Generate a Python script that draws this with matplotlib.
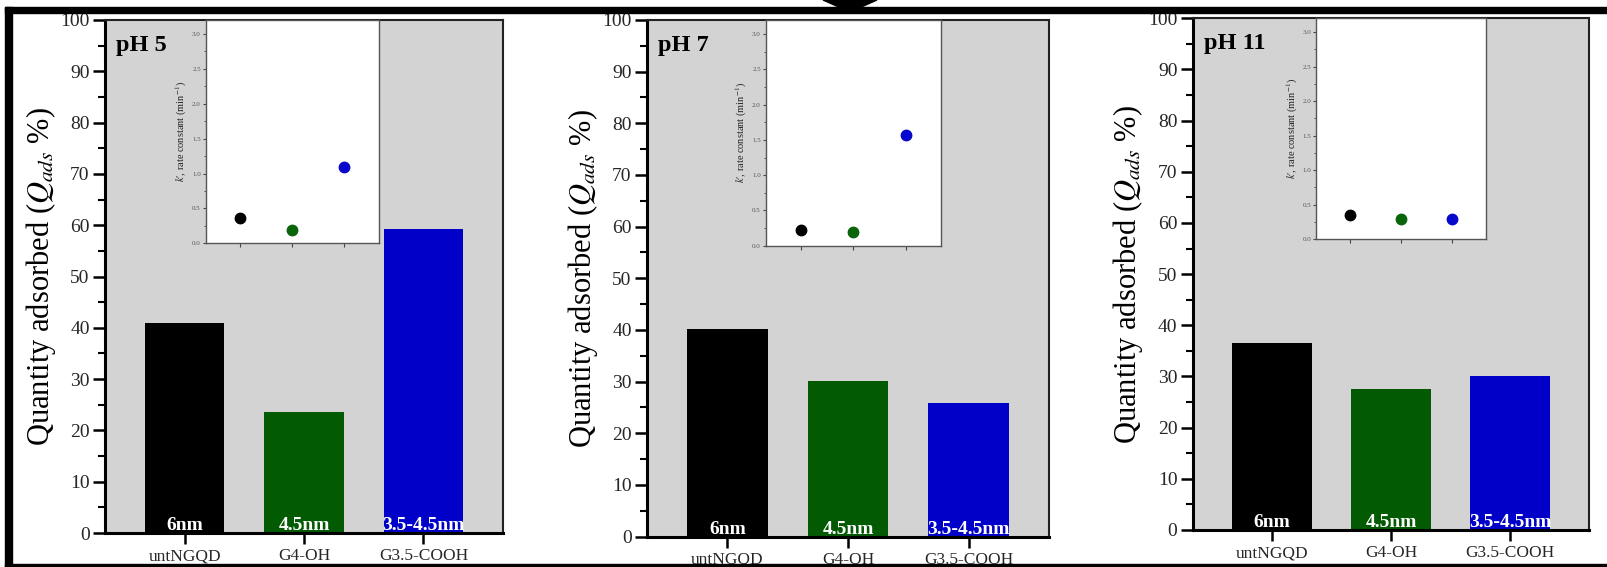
import matplotlib
matplotlib.use("Agg")
import matplotlib.pyplot as plt
from matplotlib.patches import Rectangle, Polygon
from matplotlib.ticker import MultipleLocator

plt.rcParams['font.family'] = ['Liberation Serif', 'DejaVu Serif']
plt.rcParams['mathtext.fontset'] = 'stix'

# ---- data ----
ph_labels = ['pH 5', 'pH 7', 'pH 11']
categories = ['untNGQD', 'G4-OH', 'G3.5-COOH']
sizes = ['6nm', '4.5nm', '3.5-4.5nm']
q_ph5 = [40.9, 23.6, 59.2]
q_ph7 = [40.1, 30.1, 25.9]
q_ph11 = [36.5, 27.5, 30.0]
k_ph5 = [0.36, 0.19, 1.09]
k_ph7 = [0.22, 0.19, 1.57]
k_ph11 = [0.35, 0.29, 0.29]

bar_colors = ['#000000', '#025a02', '#0000c8']
pt_colors = ['#000000', '#0a640a', '#0808cc']

W, H = 1608, 567
fig = plt.figure(figsize=(W / 100, H / 100), dpi=100)


def rect(l, r, t, b):
    return [l / W, 1 - b / H, (r - l) / W, (b - t) / H]


# main axes pixel boxes (left, right, top, bottom)
main_boxes = [(105, 503, 20, 533), (647, 1049, 20, 536.5), (1192.7, 1589.5, 18.3, 530)]
inset_boxes = [(205.7, 379, 20, 243.3), (765.7, 941, 20, 245.7), (1316, 1486, 18.3, 239)]
q_all = [q_ph5, q_ph7, q_ph11]
k_all = [k_ph5, k_ph7, k_ph11]

tick_col = '#262626'
for i in range(3):
    ax = fig.add_axes(rect(*main_boxes[i]))
    ax.set_facecolor('#d3d3d3')
    x = list(range(len(categories)))
    bars = ax.bar(x, q_all[i], width=2 / 3, color=bar_colors, edgecolor='none', zorder=2)
    ax.set_xlim(-2 / 3, 8 / 3)
    ax.set_ylim(0, 100)
    ax.yaxis.set_major_locator(MultipleLocator(10))
    ax.yaxis.set_minor_locator(MultipleLocator(5))
    ax.set_xticks(x)
    ax.set_xticklabels(categories, fontsize=12.5, color=tick_col)
    ax.tick_params(axis='y', which='major', length=9, width=1.8, labelsize=14,
                   labelcolor=tick_col, pad=2)
    ax.tick_params(axis='y', which='minor', length=5, width=1.5)
    ax.tick_params(axis='x', which='major', length=8, width=1.8, pad=3)
    for s in ['left', 'bottom']:
        ax.spines[s].set_linewidth(2.2)
    for s in ['top', 'right']:
        ax.spines[s].set_linewidth(1.5)
        ax.spines[s].set_color('#222222')
    for j, b in enumerate(bars):
        t = ax.text(j, 0.5, sizes[j], ha='center', va='baseline', color='white',
                    fontsize=14, fontweight='bold', zorder=3)
        t.set_clip_path(b)
    ax.text(0.028, 0.95, ph_labels[i], transform=ax.transAxes, ha='left', va='center',
            fontsize=17.5, fontweight='bold', color='black', zorder=4)
    ax.set_ylabel(r'Quantity adsorbed ($Q_{ads}$ %)', fontsize=22, color='black',
                  labelpad=2)

    ia = fig.add_axes(rect(*inset_boxes[i]))
    ia.set_facecolor('white')
    for j in range(3):
        ia.plot(j, k_all[i][j], 'o', color=pt_colors[j], markersize=7.5, zorder=3)
    ia.set_xlim(-2 / 3, 8 / 3)
    ia.set_ylim(0, 3.2)
    ia.yaxis.set_minor_locator(MultipleLocator(0.25))
    ia.set_yticks([0, 0.5, 1.0, 1.5, 2.0, 2.5, 3.0])
    ia.set_yticklabels(['0.0', '0.5', '1.0', '1.5', '2.0', '2.5', '3.0'])
    ia.set_xticks([0, 1, 2])
    ia.set_xticklabels([])
    ia.tick_params(axis='y', which='major', length=2.5, width=0.8, labelsize=5,
                   labelcolor='#555555', color='#444444', pad=1)
    ia.tick_params(axis='y', which='minor', length=1.5, width=0.6, color='#444444')
    ia.tick_params(axis='x', which='major', length=3, width=0.8, color='#444444')
    for s in ia.spines.values():
        s.set_linewidth(1.0)
        s.set_color('#555555')
    ia.set_ylabel("$k$\u2032, rate constant (min$^{-1}$)", fontsize=7.5, color='#222222',
                  labelpad=2)

# frame lines and arrow head
fig.add_artist(Polygon([(823 / W, 1), (877 / W, 1), (850 / W, 1 - 12 / H)],
                       closed=True, color='black', transform=fig.transFigure))
fig.add_artist(Rectangle((5 / W, 1 - 13 / H), (W - 5) / W, 6 / H, color='black',
                         transform=fig.transFigure))
fig.add_artist(Rectangle((5 / W, 0), 7 / W, 1 - 7 / H, color='black',
                         transform=fig.transFigure))
fig.add_artist(Rectangle((5 / W, 0.5 / H), (W - 5) / W, 2.5 / H, color='black',
                         transform=fig.transFigure))

fig.savefig('out.png', dpi=100)
